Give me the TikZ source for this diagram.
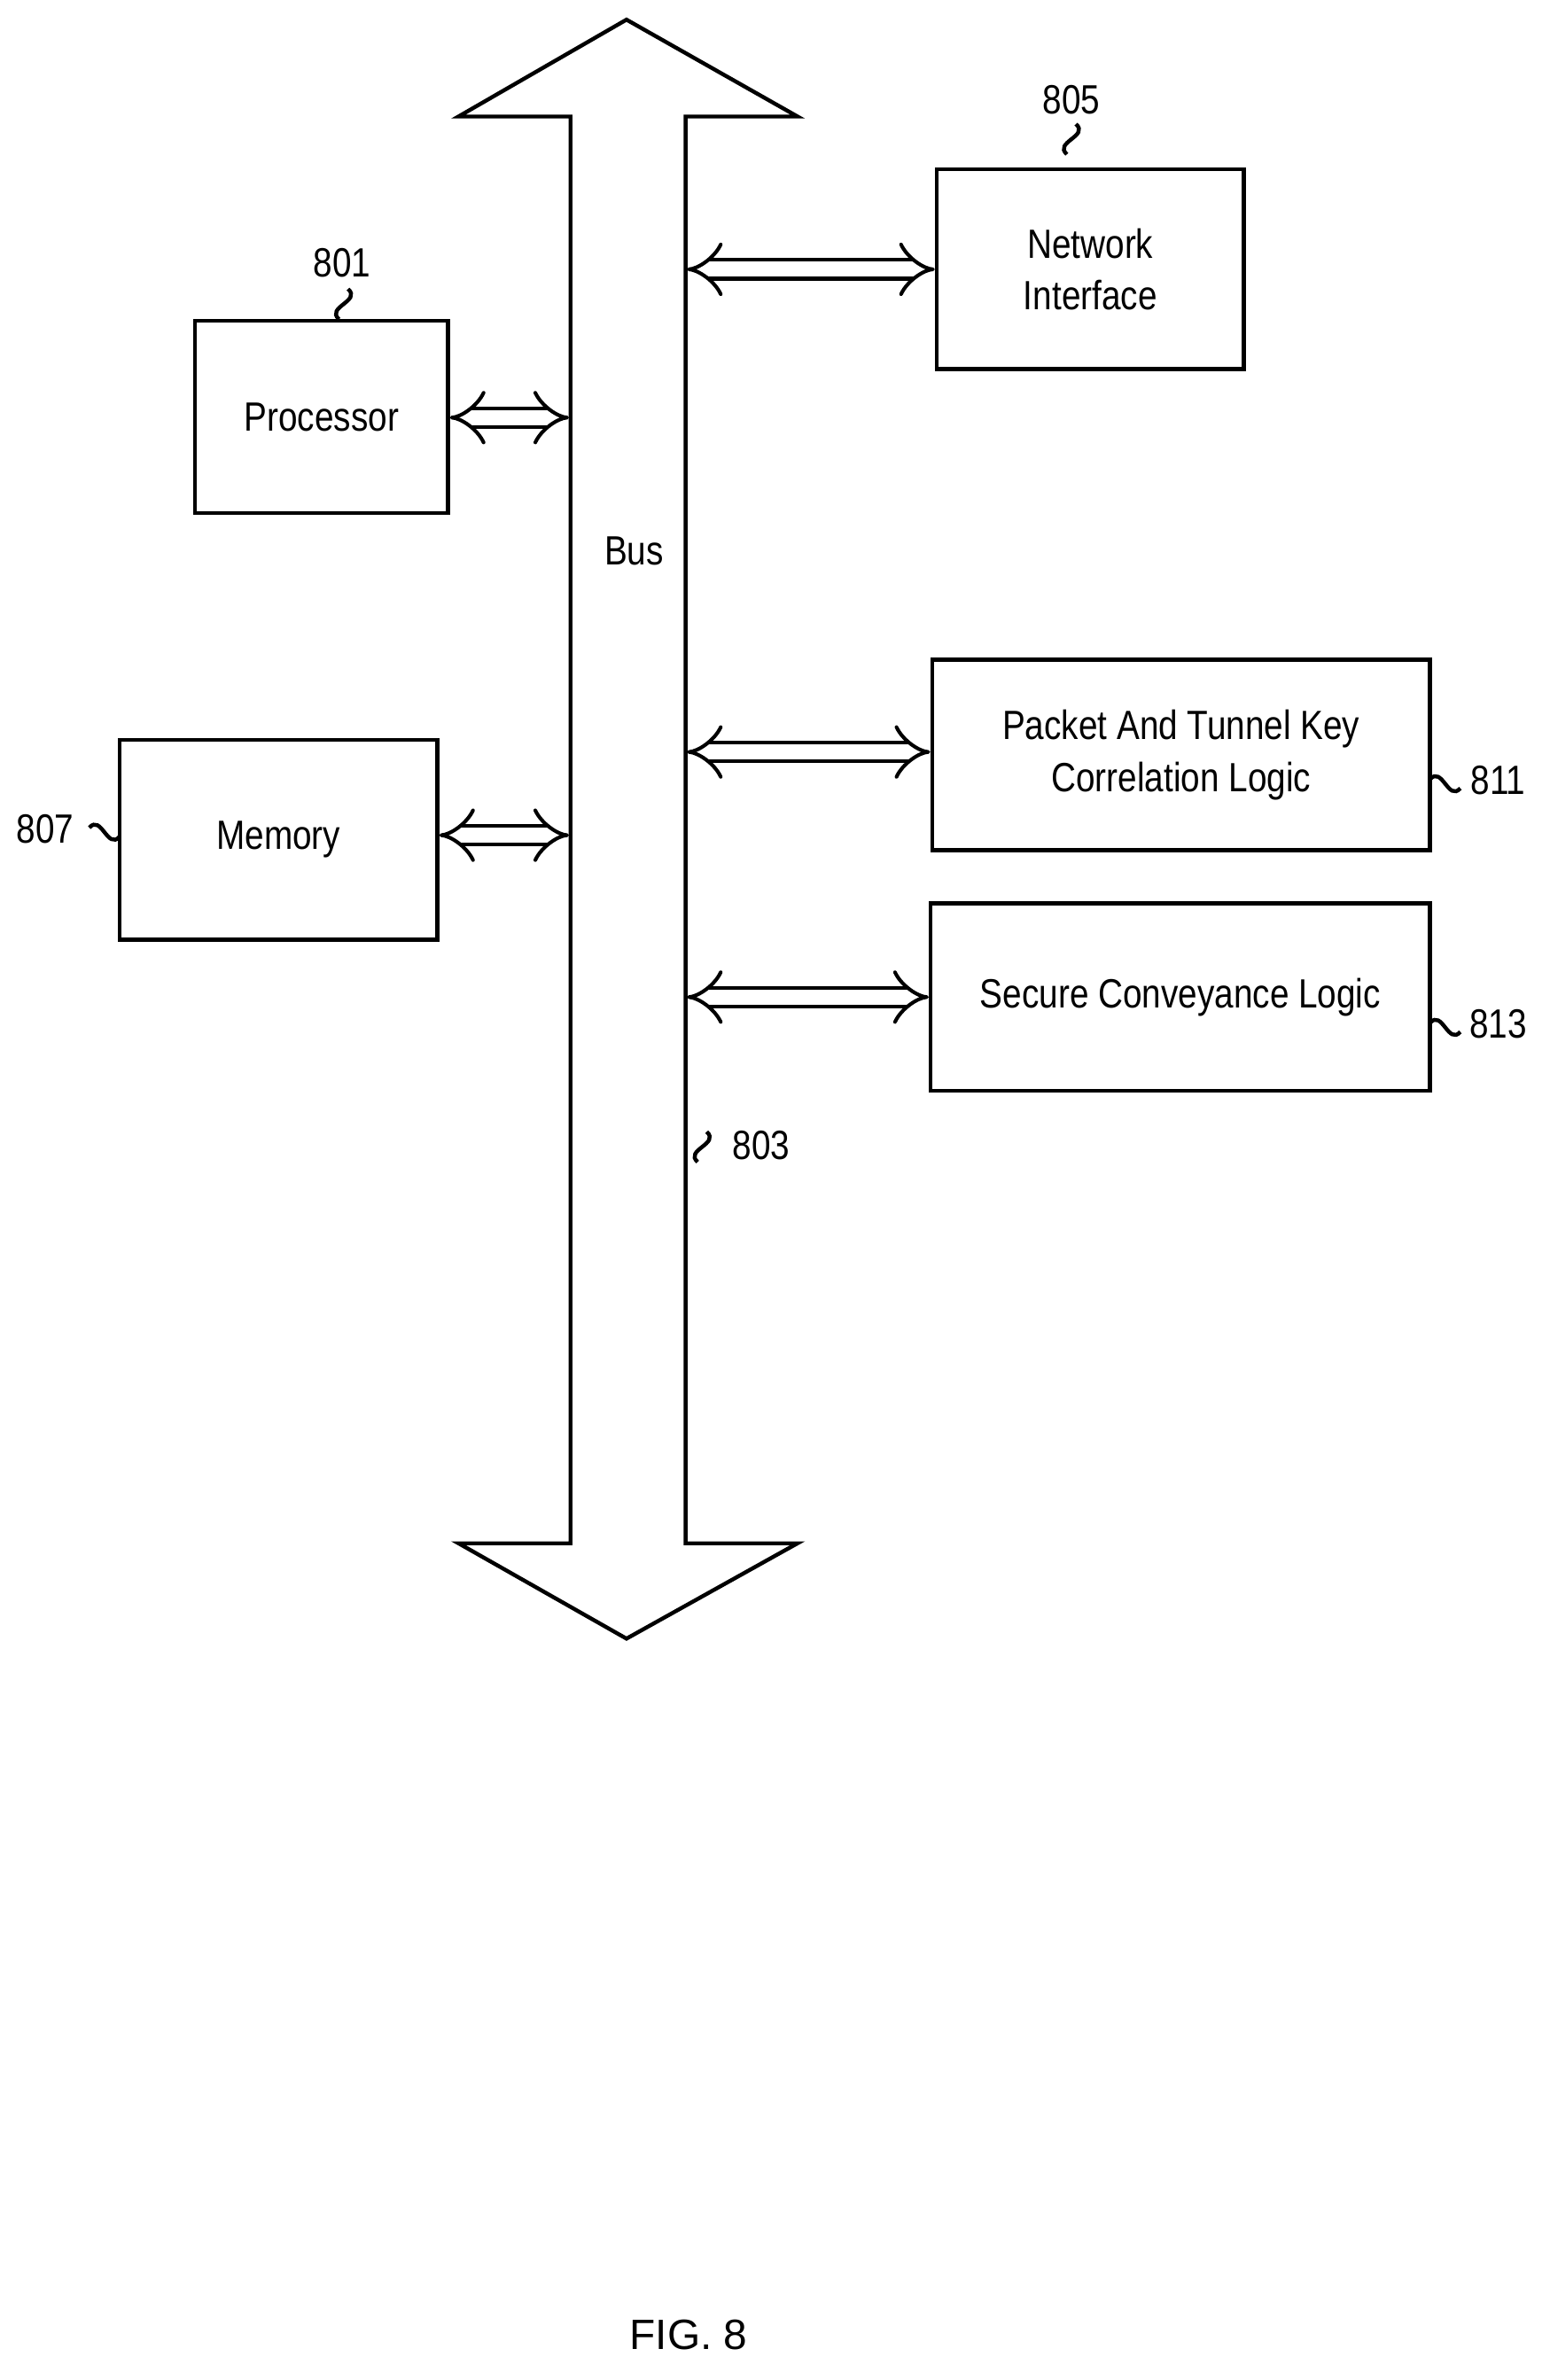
\documentclass[tikz,border=0pt]{standalone}
\usepackage{fontspec}
\setmainfont{Liberation Sans}[FakeStretch=0.84]
\newfontfamily\figfont{Liberation Sans}
\usetikzlibrary{arrows.meta}
\begin{document}
\begin{tikzpicture}[x=1pt,y=-1pt,line width=2.6pt,
  box/.style={draw,rectangle,inner sep=0pt,align=center,font=\fontsize{27}{34}\selectfont},
  lbl/.style={font=\fontsize{27}{30}\selectfont,inner sep=1pt},
  link/.style={double distance=10pt,line width=2.4pt,{Implies[length=9pt]}-{Implies[length=9pt]}},
  sq/.pic={\draw[line width=2.6pt] (3,-10) .. controls (12,-2) and (-12,2) .. (-3,10);}]
\useasboundingbox (0,0) rectangle (1024,1573);
% bus
\draw[line join=miter] (377,1020) -- (377,77) -- (303,77) -- (414,13) -- (527,77) -- (453,77)
  -- (453,1020) -- (527,1020) -- (414,1083) -- (303,1020) -- cycle;
\node[lbl] (bus) at (419,364) {Bus};
\coordinate (bl1) at (376,276); \coordinate (bl2) at (376,552);
\coordinate (br1) at (454,178); \coordinate (br2) at (454,497); \coordinate (br3) at (454,659);
% boxes
\node[box,minimum width=167pt,minimum height=127pt] (proc) at (212.5,275.5) {Processor};
\node[box,minimum width=203pt,minimum height=132pt] (ni) at (720.5,178) {Network\\Interface};
\node[box,minimum width=210pt,minimum height=132pt] (mem) at (184,555) {Memory};
\node[box,minimum width=329pt,minimum height=126pt] (pk) at (780.5,499) {Packet And Tunnel Key\\Correlation Logic};
\node[box,minimum width=330pt,minimum height=124pt] (sc) at (780,659) {Secure Conveyance Logic};
% links
\draw[link] (proc.east |- bl1) -- (bl1);
\draw[link] (mem.east |- bl2) -- (bl2);
\draw[link] (br1) -- (ni.west |- br1);
\draw[link] (br2) -- (pk.west |- br2);
\draw[link] (br3) -- (sc.west |- br3);
% reference labels
\node[lbl] (n801) at (226,174) {801}; \pic at (227,201) {sq};
\node[lbl] (n805) at (708,66) {805}; \pic at (708,92) {sq};
\node[lbl] (n807) at (30,548) {807}; \pic[rotate=90] at (69,550) {sq};
\node[lbl] (n811) at (990,516) {811}; \pic[rotate=90] at (955,518) {sq};
\node[lbl] (n813) at (990,677) {813}; \pic[rotate=90] at (955,679) {sq};
\node[lbl] (n803) at (503,757) {803}; \pic at (464,758) {sq};
\node[font=\figfont\fontsize{28}{32}\selectfont] (fig) at (455,1543) {FIG. 8};
\end{tikzpicture}
\end{document}
